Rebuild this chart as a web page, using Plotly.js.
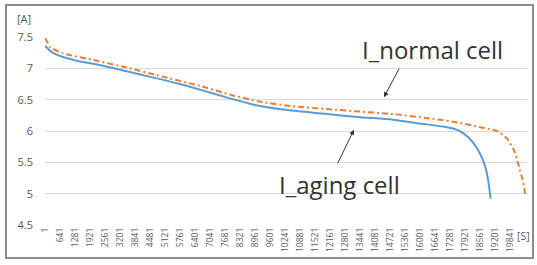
<!DOCTYPE html>
<html>
<head>
<meta charset="utf-8">
<script src="https://cdn.plot.ly/plotly-3.0.1.min.js"></script>
<style>
html,body{margin:0;padding:0;background:#fff;}
#wrap{position:relative;width:537px;height:265px;}
#chart{width:537px;height:265px;}
#frame{position:absolute;left:5px;top:4px;width:525px;height:251px;border:2px solid #8c8c8c;pointer-events:none;}
</style>
</head>
<body>
<div id="wrap"><div id="chart"></div><div id="frame"></div></div>
<script>
// time in seconds, current in A
var agingTime = [1, 213, 427, 768, 1493, 2219, 3627, 4779, 5760, 6613, 7893, 8700, 9174, 10454, 12033, 13441, 14849, 16001, 16982, 17494, 17835, 18262, 18561, 18774, 18902, 19017];
var agingCurrent = [7.36, 7.28, 7.23, 7.18, 7.11, 7.06, 6.94, 6.84, 6.75, 6.66, 6.52, 6.44, 6.40, 6.33, 6.27, 6.22, 6.18, 6.12, 6.07, 6.03, 5.97, 5.82, 5.64, 5.45, 5.24, 4.92];
var normalTime = [1, 128, 213, 768, 2219, 3627, 4779, 6613, 7893, 9174, 10454, 12033, 13441, 14849, 16428, 17708, 18561, 19286, 19713, 20054, 20225, 20383, 20503];
var normalCurrent = [7.48, 7.40, 7.34, 7.24, 7.12, 7.00, 6.89, 6.72, 6.58, 6.47, 6.40, 6.35, 6.31, 6.27, 6.20, 6.13, 6.06, 6.00, 5.88, 5.66, 5.43, 5.22, 4.98];
var xTickVals = [];
for (var k = 0; k < 32; k++) { xTickVals.push(1 + 640 * k); }
var xTickText = xTickVals.map(String);
var yTickVals = [4.5, 5, 5.5, 6, 6.5, 7, 7.5];
var yTickText = ['4.5', '5', '5.5', '6', '6.5', '7', '7.5'];

var traces = [
  {x: agingTime, y: agingCurrent, type: 'scatter', mode: 'lines', name: 'I_aging cell',
   line: {color: '#5B9BD5', width: 2, shape: 'spline', smoothing: 0.6}},
  {x: normalTime, y: normalCurrent, type: 'scatter', mode: 'lines', name: 'I_normal cell',
   line: {color: '#ED7D31', width: 2, dash: '6px,3px,2px,3px', shape: 'spline', smoothing: 0.6}}
];
var font = {family: 'Open Sans, Noto Sans, sans-serif', color: '#595959'};
var layout = {
  width: 537, height: 265,
  margin: {l: 45, r: 10, t: 37, b: 40, pad: 0},
  paper_bgcolor: '#fff', plot_bgcolor: '#fff',
  showlegend: false,
  font: font,
  xaxis: {range: [1, 20570], tickmode: 'array', tickvals: xTickVals, ticktext: xTickText,
    tickangle: -90, tickfont: {size: 8.5, color: '#595959'}, showgrid: false, zeroline: false,
    showline: false, ticks: '', fixedrange: true},
  yaxis: {range: [4.5, 7.5], tickmode: 'array', tickvals: yTickVals, ticktext: yTickText,
    tickfont: {size: 11, color: '#595959'}, showgrid: true, gridcolor: '#d9d9d9', gridwidth: 1,
    zeroline: false, showline: false, ticks: '', ticklabelstandoff: 11},
  annotations: [
    {xref: 'paper', yref: 'paper', x: -0.044, y: 1.10, xanchor: 'center', yanchor: 'middle',
     text: '[A]', showarrow: false, font: {size: 11, color: '#595959'}},
    {xref: 'paper', yref: 'paper', x: 0.993, y: -0.058, xanchor: 'center', yanchor: 'middle',
     text: '[S]', showarrow: false, font: {size: 10.5, color: '#595959'}},
    {xref: 'paper', yref: 'paper', x: 0.803, y: 0.935, xanchor: 'center', yanchor: 'middle',
     text: 'I_normal cell', showarrow: false, font: {size: 24, color: '#333333'}},
    {xref: 'paper', yref: 'paper', x: 0.61, y: 0.218, xanchor: 'center', yanchor: 'middle',
     text: 'I_aging cell', showarrow: false, font: {size: 24, color: '#333333'}},
    {x: 14465, y: 6.54, text: '', showarrow: true, arrowhead: 2, arrowsize: 1, arrowwidth: 1,
     arrowcolor: '#333333', ax: 16, ay: -30},
    {x: 13185, y: 6.02, text: '', showarrow: true, arrowhead: 2, arrowsize: 1, arrowwidth: 1,
     arrowcolor: '#333333', ax: -17, ay: 35}
  ]
};
Plotly.newPlot('chart', traces, layout, {displayModeBar: false, staticPlot: true});
</script>
</body>
</html>
